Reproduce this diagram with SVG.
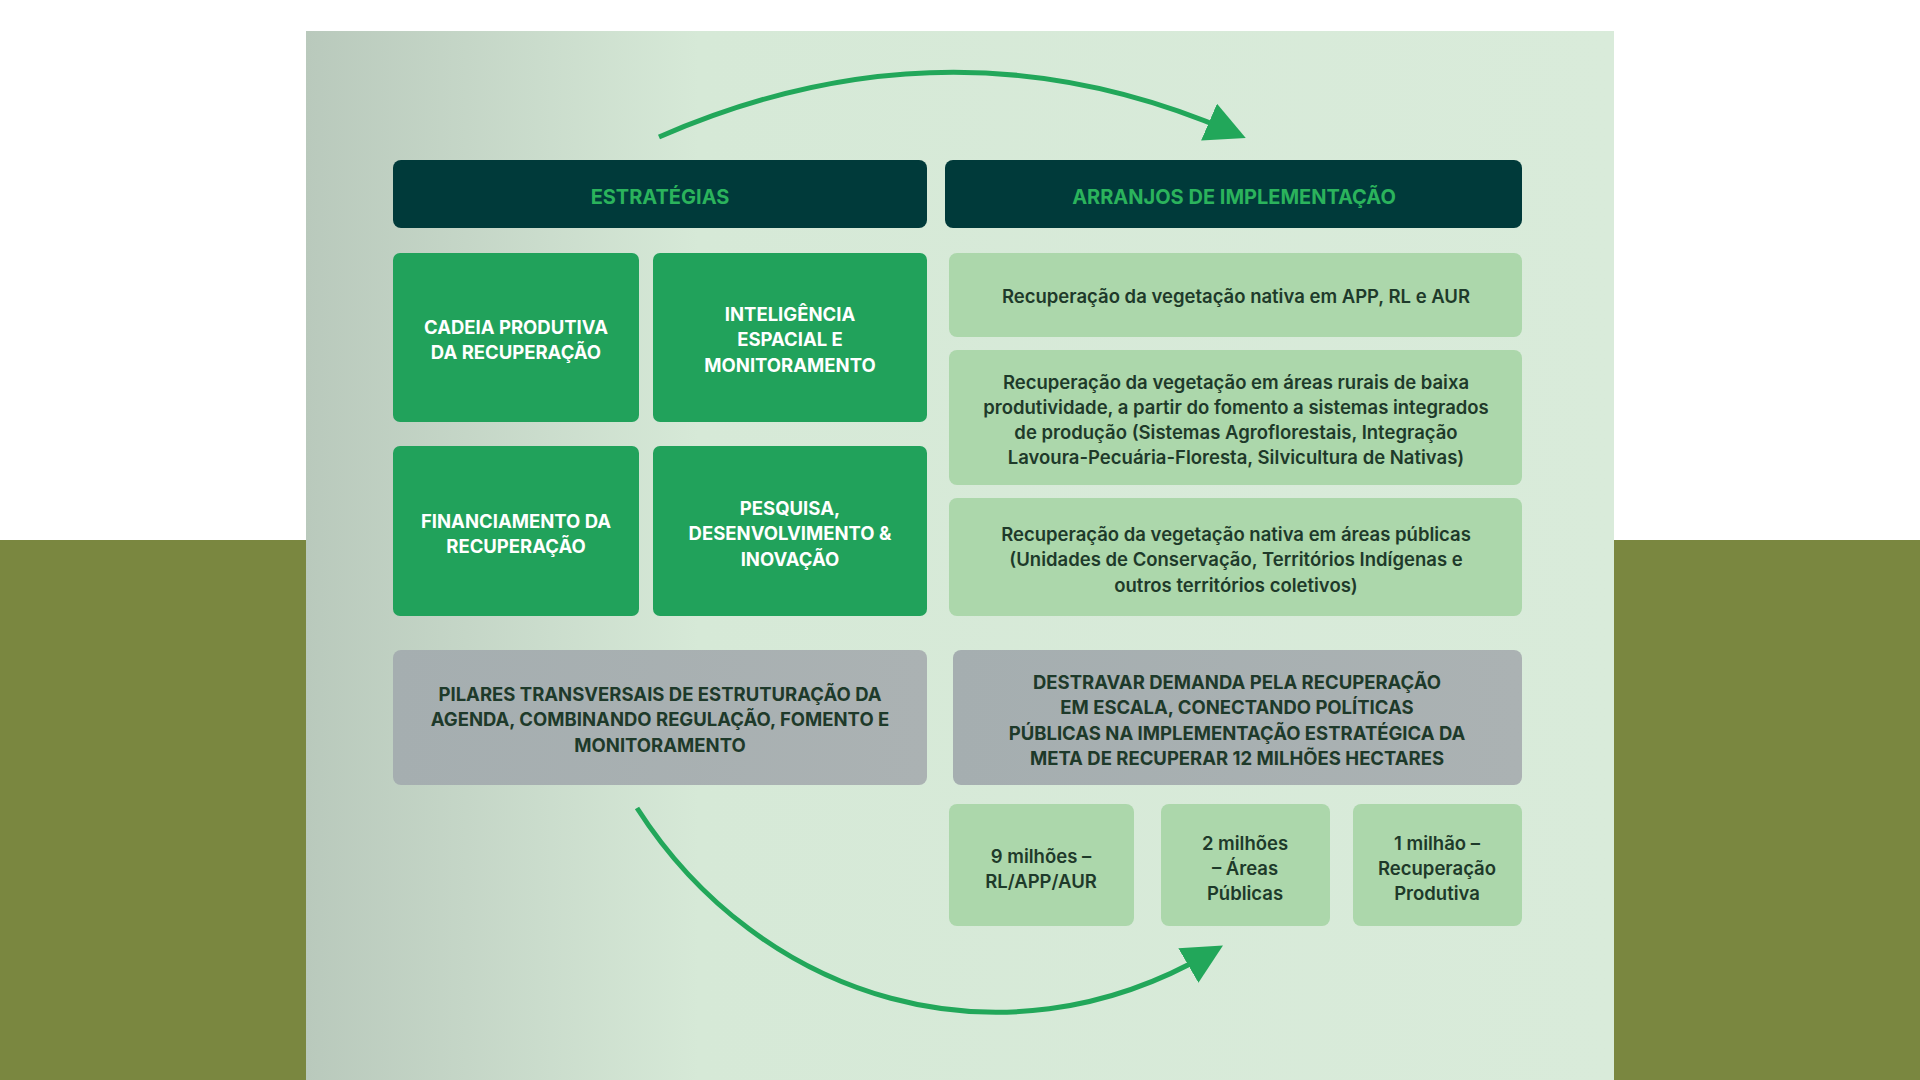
<svg xmlns="http://www.w3.org/2000/svg" width="1920" height="1080" viewBox="0 0 1920 1080">
<defs>
<linearGradient id="pg" x1="0" y1="0" x2="1" y2="0">
<stop offset="0" stop-color="#b9c9bc"/><stop offset="0.3" stop-color="#d6e9d7"/><stop offset="1" stop-color="#d9ebda"/>
</linearGradient>
<linearGradient id="gg" x1="0" y1="0" x2="1" y2="0">
<stop offset="0" stop-color="#a5aeb0"/><stop offset="1" stop-color="#abb2b3"/>
</linearGradient>
<marker id="ah" markerWidth="8" markerHeight="8" refX="5" refY="4" orient="auto" markerUnits="strokeWidth">
<path d="M0,0 L8,4 L0,8 Z" fill="#22a75a"/>
</marker>
<style>
text{font-family:Inter,"Noto Sans","Liberation Sans",sans-serif;text-anchor:middle;font-weight:700;}
.hd{fill:#003a3a}.hdt{fill:#2bb35c;font-size:20px}
.gb{fill:#21a25b}.gbt{fill:#fff;font-size:18.5px}
.lb{fill:#acd7ab}.lbt{fill:#1e3a2a;font-size:18.5px;font-weight:600}
.gr{fill:url(#gg)}.grt{fill:#1e3a2a;font-size:18.5px}
.arc{fill:none;stroke:#22a75a;stroke-width:5}
</style>
</defs>
<rect width="1920" height="1080" fill="#ffffff"/>
<rect y="540" width="1920" height="540" fill="#7a8740"/>
<rect x="306" y="31" width="1308" height="1049" fill="url(#pg)"/>
<g id="connectors">
<path class="arc" d="M659,137 Q950,10 1232,132" marker-end="url(#ah)"/>
<path class="arc" d="M637,808 C760,1000 1000,1075 1210,953" marker-end="url(#ah)"/>
</g>
<g id="h1"><rect class="hd" x="393" y="160" width="534" height="68" rx="8"/><text class="hdt" x="660" y="204">ESTRATÉGIAS</text></g>
<g id="h2"><rect class="hd" x="945" y="160" width="577" height="68" rx="8"/><text class="hdt" x="1234" y="204">ARRANJOS DE IMPLEMENTAÇÃO</text></g>
<g id="s1"><rect class="gb" x="393" y="253" width="246" height="169" rx="7"/><text class="gbt" x="516" y="334">CADEIA PRODUTIVA</text><text class="gbt" x="516" y="359">DA RECUPERAÇÃO</text></g>
<g id="s2"><rect class="gb" x="653" y="253" width="274" height="169" rx="7"/><text class="gbt" x="790" y="321">INTELIGÊNCIA</text><text class="gbt" x="790" y="346">ESPACIAL E</text><text class="gbt" x="790" y="372">MONITORAMENTO</text></g>
<g id="s3"><rect class="gb" x="393" y="446" width="246" height="170" rx="7"/><text class="gbt" x="516" y="528">FINANCIAMENTO DA</text><text class="gbt" x="516" y="553">RECUPERAÇÃO</text></g>
<g id="s4"><rect class="gb" x="653" y="446" width="274" height="170" rx="7"/><text class="gbt" x="790" y="515">PESQUISA,</text><text class="gbt" x="790" y="540">DESENVOLVIMENTO &amp;</text><text class="gbt" x="790" y="566">INOVAÇÃO</text></g>
<g id="a1"><rect class="lb" x="949" y="253" width="573" height="84" rx="8"/><text class="lbt" x="1236" y="303">Recuperação da vegetação nativa em APP, RL e AUR</text></g>
<g id="a2"><rect class="lb" x="949" y="350" width="573" height="135" rx="8"/><text class="lbt" x="1236" y="389">Recuperação da vegetação em áreas rurais de baixa</text><text class="lbt" x="1236" y="414">produtividade, a partir do fomento a sistemas integrados</text><text class="lbt" x="1236" y="439">de produção (Sistemas Agroflorestais, Integração</text><text class="lbt" x="1236" y="464">Lavoura-Pecuária-Floresta, Silvicultura de Nativas)</text></g>
<g id="a3"><rect class="lb" x="949" y="498" width="573" height="118" rx="8"/><text class="lbt" x="1236" y="541">Recuperação da vegetação nativa em áreas públicas</text><text class="lbt" x="1236" y="566">(Unidades de Conservação, Territórios Indígenas e</text><text class="lbt" x="1236" y="592">outros territórios coletivos)</text></g>
<g id="p1"><rect class="gr" x="393" y="650" width="534" height="135" rx="8"/><text class="grt" x="660" y="701">PILARES TRANSVERSAIS DE ESTRUTURAÇÃO DA</text><text class="grt" x="660" y="726">AGENDA, COMBINANDO REGULAÇÃO, FOMENTO E</text><text class="grt" x="660" y="752">MONITORAMENTO</text></g>
<g id="p2"><rect class="gr" x="953" y="650" width="569" height="135" rx="8"/><text class="grt" x="1237" y="689">DESTRAVAR DEMANDA PELA RECUPERAÇÃO</text><text class="grt" x="1237" y="714">EM ESCALA, CONECTANDO POLÍTICAS</text><text class="grt" x="1237" y="740">PÚBLICAS NA IMPLEMENTAÇÃO ESTRATÉGICA DA</text><text class="grt" x="1237" y="765">META DE RECUPERAR 12 MILHÕES HECTARES</text></g>
<g id="m1"><rect class="lb" x="949" y="804" width="185" height="122" rx="8"/><text class="lbt" x="1041" y="863">9 milhões –</text><text class="lbt" x="1041" y="888">RL/APP/AUR</text></g>
<g id="m2"><rect class="lb" x="1161" y="804" width="169" height="122" rx="8"/><text class="lbt" x="1245" y="850">2 milhões</text><text class="lbt" x="1245" y="875">– Áreas</text><text class="lbt" x="1245" y="900">Públicas</text></g>
<g id="m3"><rect class="lb" x="1353" y="804" width="169" height="122" rx="8"/><text class="lbt" x="1437" y="850">1 milhão –</text><text class="lbt" x="1437" y="875">Recuperação</text><text class="lbt" x="1437" y="900">Produtiva</text></g>
</svg>
